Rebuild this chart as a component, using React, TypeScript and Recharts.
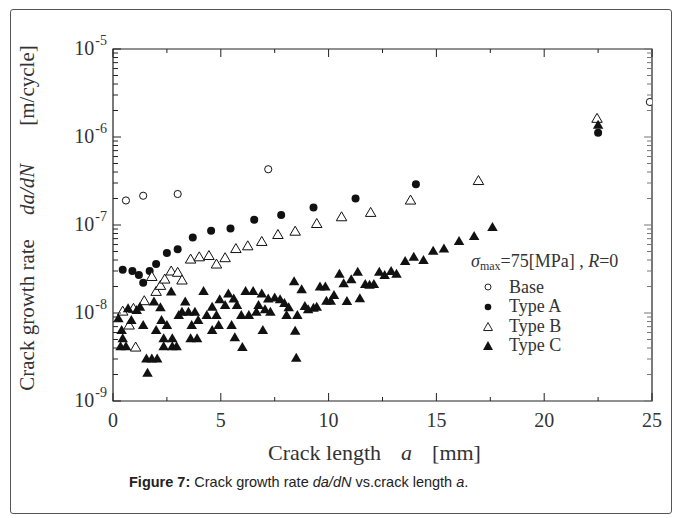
import React from "react";
import {
  ScatterChart,
  Scatter,
  XAxis,
  YAxis,
  ReferenceArea,
  Label,
  Legend,
} from "recharts";

// crack length a [mm], da/dN [m/cycle]
const baseData: [number, number][] = [
  [0.6, 1.9e-7], [1.4, 2.15e-7], [3.0, 2.25e-7], [7.2, 4.3e-7], [24.9, 2.5e-6],
];

const typeAData: [number, number][] = [
  [0.45, 3.1e-8], [0.9, 3.0e-8], [1.2, 2.7e-8], [1.4, 2.2e-8], [1.7, 3.0e-8],
  [2.0, 3.6e-8], [2.5, 4.8e-8], [3.0, 5.3e-8], [3.7, 7.2e-8], [4.55, 8.6e-8],
  [5.45, 9.1e-8], [6.55, 1.15e-7], [7.8, 1.3e-7], [9.3, 1.58e-7], [11.25, 2.0e-7],
  [14.05, 2.9e-7], [22.5, 1.12e-6],
];

const typeBData: [number, number][] = [
  [0.45, 1.05e-8], [0.75, 7.3e-9], [0.95, 1.13e-8], [1.05, 4.1e-9], [1.45, 1.38e-8],
  [1.8, 2.6e-8], [2.0, 1.76e-8], [2.2, 2.06e-8], [2.4, 2.43e-8], [2.7, 3.0e-8],
  [3.0, 2.9e-8], [3.2, 2.37e-8], [3.6, 4.1e-8], [4.0, 4.35e-8], [4.45, 4.5e-8],
  [4.8, 3.6e-8], [5.2, 4.25e-8], [5.7, 5.4e-8], [6.25, 5.8e-8], [6.9, 6.5e-8],
  [7.65, 7.8e-8], [8.45, 8.5e-8], [9.45, 1.04e-7], [10.6, 1.24e-7], [11.95, 1.39e-7],
  [13.8, 1.92e-7], [16.95, 3.2e-7], [22.45, 1.63e-6],
];

const typeCData: [number, number][] = [
  [0.25, 8.7e-9], [0.4, 6.4e-9], [0.45, 5.15e-9], [0.35, 4.2e-9], [0.6, 4.2e-9],
  [0.7, 1.13e-8], [0.85, 8.3e-9], [1.1, 1.08e-8], [1.25, 1.18e-8], [1.4, 7.3e-9],
  [1.55, 3.05e-9], [1.8, 3.05e-9], [2.05, 3.05e-9], [1.6, 2.1e-9], [1.9, 1.35e-8],
  [2.0, 6.4e-9], [2.2, 1.16e-8], [2.25, 8.3e-9], [2.35, 5.15e-9], [2.75, 5.15e-9],
  [2.35, 4.2e-9], [2.75, 4.2e-9], [2.95, 4.2e-9], [2.5, 7.3e-9], [2.7, 1.75e-8],
  [3.05, 9.5e-9], [3.2, 1.03e-8], [3.35, 1.35e-8], [3.5, 1.03e-8], [3.6, 5.15e-9],
  [3.9, 5.15e-9], [3.65, 7.3e-9], [3.8, 1.03e-8], [3.95, 8.3e-9], [4.2, 1.78e-8],
  [4.35, 9.5e-9], [4.6, 1.18e-8], [4.6, 6.4e-9], [4.8, 9.5e-9], [4.9, 7.3e-9],
  [4.95, 1.43e-8], [5.2, 1.23e-8], [5.35, 1.67e-8], [5.5, 7.3e-9], [5.6, 1.46e-8],
  [5.65, 5.3e-9], [5.75, 1.23e-8], [5.95, 9.5e-9], [6.0, 4.1e-9], [6.15, 1.78e-8],
  [6.3, 9.5e-9], [6.5, 1.78e-8], [6.65, 1.03e-8], [6.75, 1.23e-8], [6.9, 1.67e-8],
  [6.95, 6.4e-9], [7.05, 1.1e-8], [7.2, 1.46e-8], [7.3, 1.03e-8], [7.5, 1.5e-8],
  [7.75, 1.43e-8], [7.95, 1.3e-8], [8.15, 1.16e-8], [8.05, 9.5e-9], [8.4, 2.3e-8],
  [8.75, 1.86e-8], [8.45, 6.3e-9], [8.5, 3.1e-9], [8.55, 9.5e-9], [8.9, 1.2e-8],
  [9.05, 1.1e-8], [9.3, 1.15e-8], [9.45, 1.18e-8], [9.6, 2.0e-8], [9.85, 2.0e-8],
  [9.9, 1.38e-8], [10.1, 1.38e-8], [10.25, 1.6e-8], [10.5, 2.8e-8], [10.7, 2.18e-8],
  [10.85, 1.37e-8], [11.05, 2.42e-8], [11.35, 2.95e-8], [11.45, 1.47e-8], [11.7, 2.13e-8],
  [11.9, 2.1e-8], [12.1, 2.13e-8], [12.35, 2.95e-8], [12.6, 2.7e-8], [12.9, 3.0e-8],
  [13.15, 2.8e-8], [13.55, 3.9e-8], [13.95, 4.35e-8], [14.4, 4.0e-8], [14.85, 5.1e-8],
  [15.35, 5.4e-8], [16.05, 6.6e-8], [16.75, 7.5e-8], [17.6, 9.5e-8], [22.5, 1.38e-6],
];

const xTicks = [0, 2.5, 5, 7.5, 10, 12.5, 15, 17.5, 20, 22.5, 25];
const yMajorExps = [-9, -8, -7, -6, -5];
const yMinorSteps = [2, 3, 4, 5, 6, 7, 8, 9];

const seriesNames = ["Base", "Type A", "Type B", "Type C"];

const serif = "'Liberation Serif', 'Times New Roman', serif";
const ink = "#222";
const textInk = "#333";

const W = 681;
const H = 518;
const MARGIN = { top: 49, right: 29, bottom: 87, left: 53 };
const Y_AXIS_W = 60;
const X_AXIS_H = 30;
const PLOT_W = W - MARGIN.left - Y_AXIS_W - MARGIN.right;
const PLOT_H = H - MARGIN.top - MARGIN.bottom - X_AXIS_H;

const toPoints = (rows: [number, number][]) => rows.map(([x, y]) => ({ x, y }));

const yTicks: number[] = [];
yMajorExps.forEach((e) => {
  yTicks.push(Number((10 ** e).toPrecision(3)));
  if (e < -5) yMinorSteps.forEach((k) => yTicks.push(Number((k * 10 ** e).toPrecision(3))));
});

const XTick = (props: any) => {
  const { x, y, payload } = props;
  const major = payload.value % 5 === 0;
  const len = major ? 8 : 4;
  return (
    <g>
      <line x1={x} x2={x} y1={y} y2={y - len} stroke={ink} />
      <line x1={x} x2={x} y1={y - PLOT_H} y2={y - PLOT_H + len} stroke={ink} />
      {major && (
        <text x={x} y={y + 26} textAnchor="middle" fontFamily={serif} fontSize={20} fill={textInk}>
          {payload.value}
        </text>
      )}
    </g>
  );
};

const YTick = (props: any) => {
  const { x, y, payload } = props;
  const lg = Math.log10(payload.value);
  const major = Math.abs(lg - Math.round(lg)) < 1e-6;
  const len = major ? 8 : 5;
  return (
    <g>
      <line x1={x} x2={x + len} y1={y} y2={y} stroke={ink} />
      <line x1={x + PLOT_W} x2={x + PLOT_W - len} y1={y} y2={y} stroke="#777" />
      {major && (
        <text x={x - 6} y={y + 6} textAnchor="end" fontFamily={serif} fontSize={20} fill={textInk}>
          <tspan>10</tspan>
          <tspan dx={1} dy={-10} fontSize={14}>{`-${-Math.round(lg)}`}</tspan>
        </text>
      )}
    </g>
  );
};

const openCircle = (p: any) => (
  <circle cx={p.cx} cy={p.cy} r={3.6} fill="#fff" stroke="#111" strokeWidth={1} />
);
const filledCircle = (p: any) => <circle cx={p.cx} cy={p.cy} r={4} fill="#111" />;
const triPoints = (cx: number, cy: number, s: number) =>
  `${cx},${cy - s} ${cx - s * 1.05},${cy + s * 0.8} ${cx + s * 1.05},${cy + s * 0.8}`;
const openTriangle = (p: any) => (
  <polygon points={triPoints(p.cx, p.cy, 5)} fill="#fff" stroke="#111" strokeWidth={1} />
);
const filledTriangle = (p: any) => <polygon points={triPoints(p.cx, p.cy, 5)} fill="#111" />;

const LegendMarker = ({ kind }: { kind: number }) => (
  <svg width={12} height={12} style={{ display: "block" }}>
    {kind === 0 && <circle cx={6} cy={6} r={3} fill="#fff" stroke="#222" />}
    {kind === 1 && <circle cx={6} cy={6} r={3.3} fill="#111" />}
    {kind === 2 && <polygon points="6,1.5 1.5,9.5 10.5,9.5" fill="#fff" stroke="#222" />}
    {kind === 3 && <polygon points="6,1 1,10 11,10" fill="#111" />}
  </svg>
);

const renderLegend = () => (
  <div style={{ fontFamily: serif, color: textInk, fontSize: 18, lineHeight: "19.6px" }}>
    <div style={{ marginBottom: 1 }}>
      <i>σ</i>
      <sub style={{ fontSize: 12, verticalAlign: "-3px" }}>max</sub>=75[MPa] , <i>R</i>=0
    </div>
    {seriesNames.map((name, i) => (
      <div key={name} style={{ display: "flex", alignItems: "center" }}>
        <div style={{ width: 34, display: "flex", justifyContent: "center" }}>
          <LegendMarker kind={i} />
        </div>
        <span style={{ marginLeft: 4 }}>{name}</span>
      </div>
    ))}
  </div>
);

const YTitle = (props: any) => {
  const vb = props.viewBox;
  const cx = vb.x - 26;
  const cy = vb.y + vb.height / 2 - 7;
  return (
    <text
      x={cx}
      y={cy}
      transform={`rotate(-90 ${cx} ${cy})`}
      textAnchor="middle"
      dominantBaseline="central"
      fontFamily={serif}
      fontSize={21}
      fill={textInk}
    >
      <tspan>Crack growth rate</tspan>
      <tspan dx={24} fontStyle="italic">da/dN</tspan>
      <tspan dx={38}>[m/cycle]</tspan>
    </text>
  );
};

const XTitle = (props: any) => {
  const vb = props.viewBox;
  return (
    <text
      x={vb.x + vb.width / 2 - 8}
      y={vb.y + 59}
      textAnchor="middle"
      fontFamily={serif}
      fontSize={22}
      fill={textInk}
    >
      <tspan>Crack length</tspan>
      <tspan dx={20} fontStyle="italic">a</tspan>
      <tspan dx={20}>[mm]</tspan>
    </text>
  );
};

export default function App() {
  return (
    <div style={{ position: "absolute", left: 0, top: 0, width: W, height: H, background: "#fff" }}>
      <div
        style={{
          position: "absolute",
          left: 10,
          top: 9,
          width: 660,
          height: 503,
          border: "1px solid #555",
          borderRadius: 3,
        }}
      />
      <div style={{ position: "absolute", left: 0, top: 0 }}>
        <ScatterChart width={W} height={H} margin={MARGIN}>
          <XAxis
            dataKey="x"
            type="number"
            domain={[0, 25]}
            ticks={xTicks}
            interval={0}
            height={X_AXIS_H}
            tickSize={0}
            tickMargin={0}
            tickLine={false}
            axisLine={false}
            tick={<XTick />}
            allowDataOverflow
          >
            <Label content={<XTitle />} />
          </XAxis>
          <YAxis
            dataKey="y"
            type="number"
            scale="log"
            domain={[1e-9, 1e-5]}
            ticks={yTicks}
            interval={0}
            width={Y_AXIS_W}
            tickSize={0}
            tickMargin={0}
            tickLine={false}
            axisLine={false}
            tick={<YTick />}
            allowDataOverflow
          >
            <Label content={<YTitle />} />
          </YAxis>
          <ReferenceArea
            x1={0}
            x2={25}
            y1={1e-9}
            y2={1e-5}
            fill="none"
            stroke={ink}
            strokeWidth={1.2}
            ifOverflow="visible"
          />
          <Legend
            layout="vertical"
            align="center"
            verticalAlign="middle"
            content={renderLegend}
            wrapperStyle={{ left: 471, top: 252, width: 190 }}
          />
          <Scatter name="Base" data={toPoints(baseData)} shape={openCircle} isAnimationActive={false} />
          <Scatter name="Type A" data={toPoints(typeAData)} shape={filledCircle} isAnimationActive={false} />
          <Scatter name="Type B" data={toPoints(typeBData)} shape={openTriangle} isAnimationActive={false} />
          <Scatter name="Type C" data={toPoints(typeCData)} shape={filledTriangle} isAnimationActive={false} />
        </ScatterChart>
      </div>
      <div
        style={{
          position: "absolute",
          left: 129,
          top: 474,
          fontFamily: "'Liberation Sans', Arial, sans-serif",
          fontSize: 14.5,
          color: "#222",
          whiteSpace: "nowrap",
        }}
      >
        <b>Figure 7:</b> Crack growth rate <i>da/dN</i> vs.crack length <i>a</i>.
      </div>
    </div>
  );
}
